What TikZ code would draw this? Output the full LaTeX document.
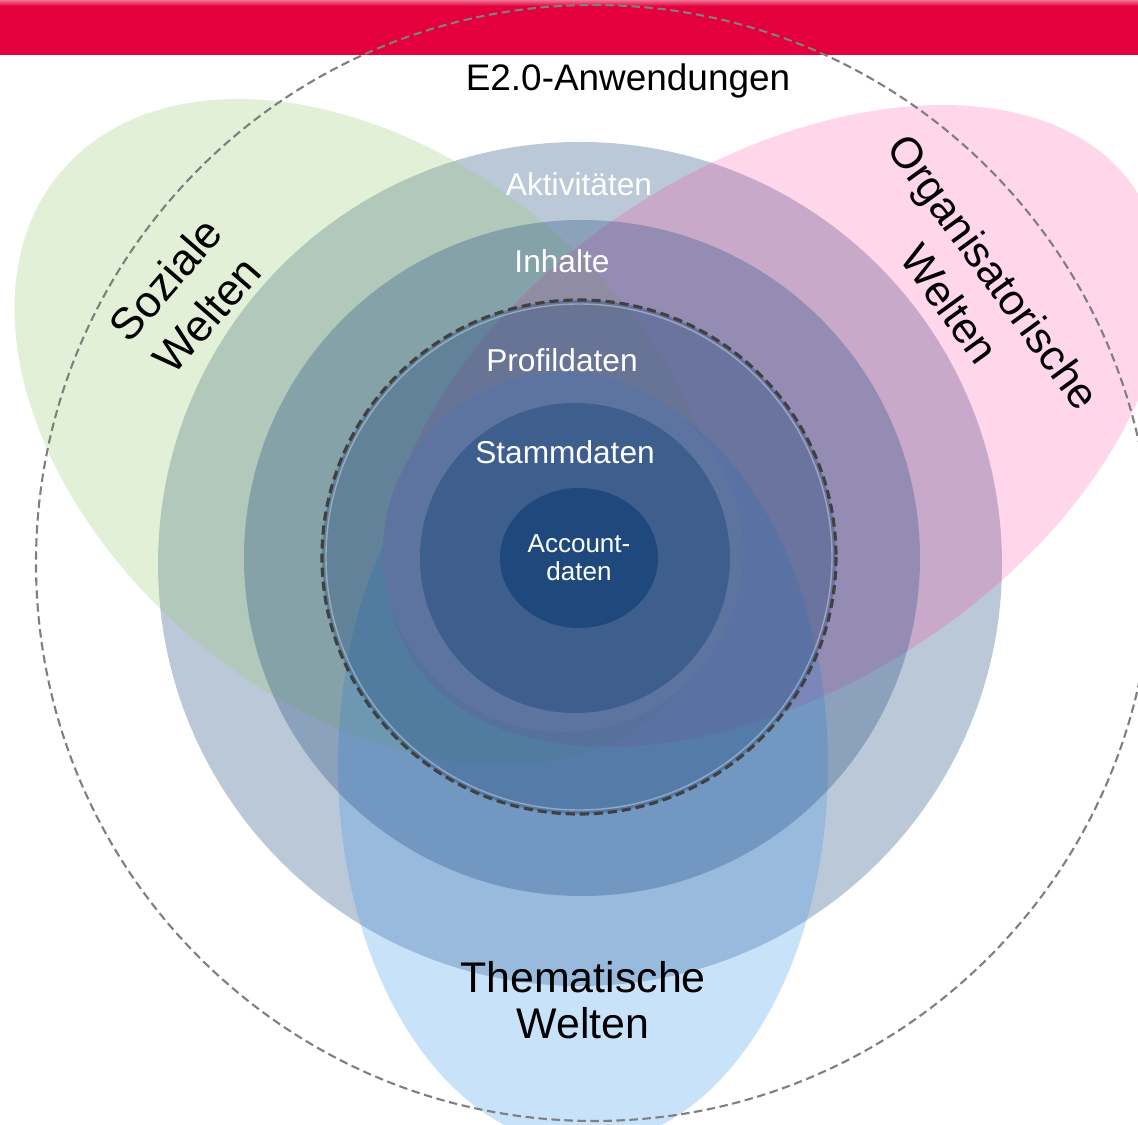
\documentclass[tikz,border=0pt]{standalone}
\usepackage{fontspec}
\setmainfont{Liberation Sans}
\usetikzlibrary{backgrounds}
\definecolor{bar}{HTML}{E4003C}
\definecolor{core}{HTML}{1F497D}
\definecolor{stamm}{HTML}{3E5E8E}
\definecolor{profil}{HTML}{5E74A0}
\definecolor{sozial}{HTML}{96C86E}
\definecolor{orga}{HTML}{FF3296}
\definecolor{thema}{HTML}{3B97ED}
\definecolor{rim}{HTML}{7F7F7F}
\definecolor{edge}{HTML}{404040}

\begin{document}
\begin{tikzpicture}[x=0.01cm, y=-0.01cm,
  ring/.style={fill=core, fill opacity=0.3},
  world/.style={fill=#1, fill opacity=0.27},
  layer/.style={font=\fontsize{9}{11}\selectfont, text=white},
  worldlabel/.style={font=\fontsize{12.3}{15.5}\selectfont, align=center, text=black}]

\useasboundingbox (0,0) rectangle (1138,1125);
\begin{scope}
\clip (0,0) rectangle (1138,1125);
\fill[bar] (0,0) rectangle (1138,55);
\shade[top color=bar!55!white, bottom color=bar] (0,0) rectangle (1138,6);

\fill[ring] (580,564) circle (422);

\fill[world=sozial, shift={(370,432)}, rotate=-40] (0,0) ellipse [x radius=404, y radius=272];
\fill[world=orga, fill opacity=0.2, shift={(775,426)}, rotate=33] (0,0) ellipse [x radius=431, y radius=261];
\fill[world=thema, fill opacity=0.28] (583,765) ellipse [x radius=245, y radius=380];

\fill[ring] (582,558) circle (338);
\fill[ring, fill opacity=0.35] (579,557) circle (257);

\fill[profil] (563,552) circle (180);
\fill[stamm] (575,558) circle (155);
\fill[core] (579,558) ellipse [x radius=79, y radius=70];

\draw[white, opacity=0.35, line width=0.4pt] (579,557) circle (253);
\draw[edge, line width=0.9pt, dash pattern=on 2.6pt off 1.4pt] (579,557) circle (257);
\draw[rim, line width=0.6pt, dash pattern=on 2.4pt off 1.3pt] (594,563) circle (558);
\end{scope}

\node[font=\fontsize{10.5}{12}\selectfont] (apps) at (628,81) {E2.0-Anwendungen};
\node[layer] (akt) at (579,184) {Aktivitäten};
\node[layer] (inh) at (562,261) {Inhalte};
\node[layer] (prof) at (562,360) {Profildaten};
\node[layer] (stamm) at (565,452) {Stammdaten};
\node[layer, font=\fontsize{7.4}{8}\selectfont, align=center] (acc) at (579,558) {Account-\\daten};
\node[worldlabel, font=\fontsize{12.6}{15.5}\selectfont, rotate=49] (soz) at (186,297) {Soziale\\Welten};
\node[worldlabel, rotate=-54] (org) at (972,288) {Organisatorische\\Welten};
\node[worldlabel, font=\fontsize{12.2}{13}\selectfont] (them) at (583,1000) {Thematische\\Welten};
\end{tikzpicture}
\end{document}
